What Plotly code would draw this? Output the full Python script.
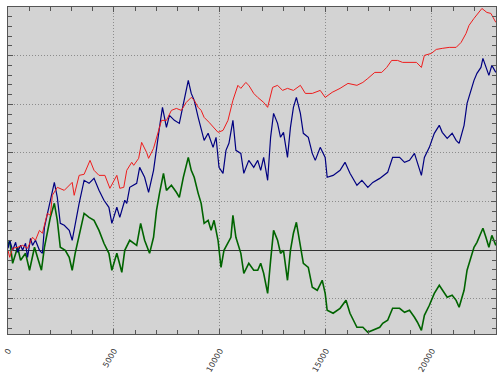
import plotly.graph_objects as go

# ---- data (x = step index, y = level; zero = black line) ----
red_x = [0, 80, 220, 454, 688, 922, 1156, 1296, 1484, 1624, 1858, 1998, 2092, 2326, 2654, 2888, 3028, 3122, 3356, 3590,
         3870, 4058, 4292, 4572, 4806, 5134, 5274, 5462, 5602, 5836, 5930, 6164, 6304, 6538, 6632, 6866, 7100, 7240, 7474, 7708,
         7942, 8176, 8410, 8644, 8784, 8971, 9112, 9252, 9486, 9720, 9908, 10142, 10376, 10610, 10844, 10984, 11218, 11358, 11592, 11780,
         12060, 12248, 12482, 12716, 12950, 13184, 13464, 13792, 14026, 14354, 14728, 14962, 15290, 15664, 16038, 16460, 16740, 16974, 17302, 17630,
         17864, 18098, 18378, 18612, 18940, 19268, 19501, 19642, 19970, 20204, 20484, 20812, 21140, 21374, 21608, 21748, 21982, 22216, 22356, 22590,
         22778, 23012]
red_y = [0, -7.2, 2.1, 3.1, 5.1, 2.1, 13.4, 10.3, 20.5, 17.5, 38.0, 35.9, 56.5, 64.7, 61.6, 66.8, 69.8, 56.5, 77.0, 78.1,
         92.4, 82.2, 77.0, 77.0, 63.7, 77.0, 63.7, 64.7, 82.2, 90.4, 87.3, 94.5, 110.9, 100.6, 94.5, 104.8, 123.2, 133.5, 133.5, 143.8,
         145.8, 143.8, 152.0, 157.1, 154.1, 146.9, 143.8, 136.6, 131.5, 126.3, 121.2, 123.2, 133.5, 154.1, 169.5, 166.4, 172.5, 169.5, 161.2, 157.1,
         152.0, 146.9, 167.4, 169.5, 164.3, 166.4, 164.3, 169.5, 161.2, 161.2, 164.3, 157.1, 162.3, 166.4, 171.5, 169.5, 172.5, 176.6, 182.8, 182.8,
         187.9, 195.1, 195.1, 193.1, 193.1, 193.1, 187.9, 200.3, 202.3, 206.4, 207.5, 208.5, 208.5, 213.6, 222.9, 231.1, 238.3, 244.4, 248.5, 244.4,
         243.4, 234.2]

blue_x = [0, 80, 220, 360, 454, 594, 688, 828, 922, 1062, 1156, 1296, 1484, 1624, 1718, 1858, 1998, 2186, 2326, 2466,
          2654, 2888, 3028, 3168, 3356, 3590, 3824, 4058, 4292, 4526, 4760, 4900, 5134, 5274, 5508, 5602, 5742, 6070, 6210, 6444,
          6632, 6866, 7006, 7146, 7287, 7474, 7614, 7848, 8082, 8316, 8504, 8644, 8784, 8971, 9112, 9252, 9440, 9674, 9814, 9954,
          10142, 10282, 10422, 10610, 10750, 10984, 11124, 11358, 11592, 11780, 11920, 12060, 12248, 12388, 12528, 12716, 12856, 12996, 13184, 13324,
          13464, 13604, 13792, 13932, 14166, 14354, 14494, 14728, 14962, 15056, 15336, 15664, 15898, 16132, 16460, 16694, 16974, 17208, 17536, 17910,
          18144, 18472, 18706, 18940, 19174, 19314, 19501, 19642, 19876, 20110, 20344, 20484, 20718, 20952, 21140, 21280, 21514, 21655, 21842, 21982,
          22122, 22310, 22403, 22544, 22684, 22824, 23012]
blue_y = [2.1, 10.3, 0, 8.2, -2.1, 5.1, 0, 7.2, -7.2, 12.3, 5.1, 10.3, 0, -3.1, 23.6, 38.0, 51.4, 69.8, 54.4, 27.7,
          25.7, 20.5, 10.3, 27.7, 48.3, 71.9, 68.8, 73.9, 61.6, 51.4, 44.2, 27.7, 44.2, 33.9, 51.4, 48.3, 64.7, 68.8, 85.2, 75.0,
          59.6, 82.2, 105.8, 126.3, 146.9, 126.3, 138.6, 133.5, 130.4, 154.1, 174.6, 161.2, 154.1, 136.6, 123.2, 113.0, 120.2, 105.8, 116.1, 85.2,
          79.1, 102.7, 109.9, 133.5, 102.7, 99.6, 79.1, 92.4, 85.2, 92.4, 82.2, 95.5, 71.9, 116.1, 140.7, 130.4, 116.1, 121.2, 95.5, 126.3,
          146.9, 157.1, 140.7, 120.2, 116.1, 99.6, 92.4, 105.8, 95.5, 75.0, 77.0, 82.2, 90.4, 79.1, 66.8, 71.9, 64.7, 69.8, 73.9, 80.1,
          95.5, 95.5, 90.4, 92.4, 99.6, 89.3, 77.0, 95.5, 105.8, 120.2, 128.4, 121.2, 115.0, 120.2, 113.0, 109.9, 128.4, 151.0, 164.3, 174.6,
          181.8, 187.9, 197.2, 187.9, 179.7, 190.0, 182.8]

green_x = [0, 80, 220, 454, 594, 828, 1016, 1250, 1390, 1577, 1718, 1858, 1998, 2186, 2326, 2466, 2700, 2888, 3028, 3168,
           3402, 3590, 3824, 4058, 4292, 4526, 4760, 4900, 5134, 5368, 5508, 5742, 6070, 6257, 6444, 6678, 6866, 7006, 7146, 7334,
           7474, 7708, 7942, 8082, 8270, 8504, 8644, 8784, 8971, 9112, 9252, 9440, 9580, 9720, 9908, 10048, 10188, 10376, 10516, 10610,
           10750, 10984, 11124, 11358, 11592, 11780, 11920, 12060, 12248, 12388, 12528, 12716, 12856, 12996, 13184, 13324, 13464, 13604, 13792, 13932,
           14166, 14354, 14588, 14822, 14962, 15056, 15336, 15664, 15944, 16132, 16460, 16740, 16974, 17208, 17536, 17676, 17910, 18144, 18472, 18706,
           18940, 19174, 19314, 19501, 19642, 19876, 20110, 20344, 20484, 20718, 20952, 21140, 21280, 21514, 21655, 21842, 21982, 22122, 22310, 22403,
           22544, 22684, 22824, 23012]
green_y = [5.1, 10.3, -13.4, 3.1, -10.3, -3.1, -20.5, 3.1, -7.2, -20.5, 3.1, 17.5, 33.9, 48.3, 30.8, 3.1, 0, -7.2, -20.5, -3.1,
           20.5, 38.0, 33.9, 30.8, 20.5, 7.2, -3.1, -20.5, -3.1, -22.6, 0, 10.3, 5.1, 27.7, 10.3, -3.1, 13.4, 41.1, 58.5, 79.1,
           61.6, 66.8, 59.6, 54.4, 75.0, 95.5, 82.2, 75.0, 58.5, 48.3, 27.7, 30.8, 20.5, 30.8, 10.3, -17.5, 0, 7.2, 13.4, 35.9,
           13.4, -3.1, -23.6, -13.4, -20.5, -20.5, -13.4, -23.6, -44.2, -10.3, 20.5, 10.3, -3.1, 0, -30.8, 0, 17.5, 28.8, 3.1, -13.4,
           -17.5, -38.0, -41.1, -30.8, -44.2, -61.6, -64.7, -59.6, -51.4, -64.7, -79.1, -79.1, -84.2, -82.2, -79.1, -75.0, -71.9, -59.6, -59.6, -63.7,
           -61.6, -68.8, -73.9, -82.2, -66.8, -56.5, -44.2, -35.9, -41.1, -48.3, -46.2, -51.4, -58.5, -41.1, -20.5, -7.2, 3.1, 8.2, 17.5, 22.6,
           13.4, 3.1, 15.4, 5.1]

x_tick_vals = [0, 5000, 10000, 15000, 20000]
x_tick_text = ["0", "5000", "10000", "15000", "20000"]

fig = go.Figure()
fig.add_trace(go.Scatter(x=green_x, y=green_y, mode="lines", line=dict(color="#006400", width=1.6), showlegend=False))
fig.add_trace(go.Scatter(x=blue_x, y=blue_y, mode="lines", line=dict(color="#000080", width=1.2), showlegend=False))
fig.add_trace(go.Scatter(x=red_x, y=red_y, mode="lines", line=dict(color="#ee1c1c", width=1), showlegend=False))

fig.update_layout(
    width=500, height=378,
    margin=dict(l=5, r=3, t=7, b=44),
    paper_bgcolor="white",
    plot_bgcolor="#d3d3d3",
    font=dict(family="DejaVu Sans", size=8, color="#333333"),
)
fig.update_xaxes(
    range=[0, 23020],
    tickvals=x_tick_vals, ticktext=x_tick_text,
    tickangle=-60,
    ticklabeloverflow="allow",
    ticklabelstandoff=8,
    ticks="inside", ticklen=5, tickcolor="#555555",
    minor=dict(dtick=1000, tick0=0, ticks="inside", ticklen=4, tickcolor="#555555", showgrid=False),
    showgrid=True, gridcolor="#8c8c8c", griddash="1px,2px", gridwidth=1,
    showline=True, linecolor="#555555", linewidth=1, mirror="ticks",
    zeroline=False,
)
fig.update_yaxes(
    range=[-86, 250],
    tick0=0, dtick=50,
    showticklabels=False,
    ticks="inside", ticklen=5, tickcolor="#555555",
    minor=dict(dtick=10, tick0=0, ticks="inside", ticklen=4, tickcolor="#555555", showgrid=False),
    showgrid=True, gridcolor="#8c8c8c", griddash="1px,2px", gridwidth=1,
    showline=True, linecolor="#555555", linewidth=1, mirror="ticks",
    zeroline=True, zerolinecolor="#333333", zerolinewidth=1,
)

fig.write_html("out.html")
